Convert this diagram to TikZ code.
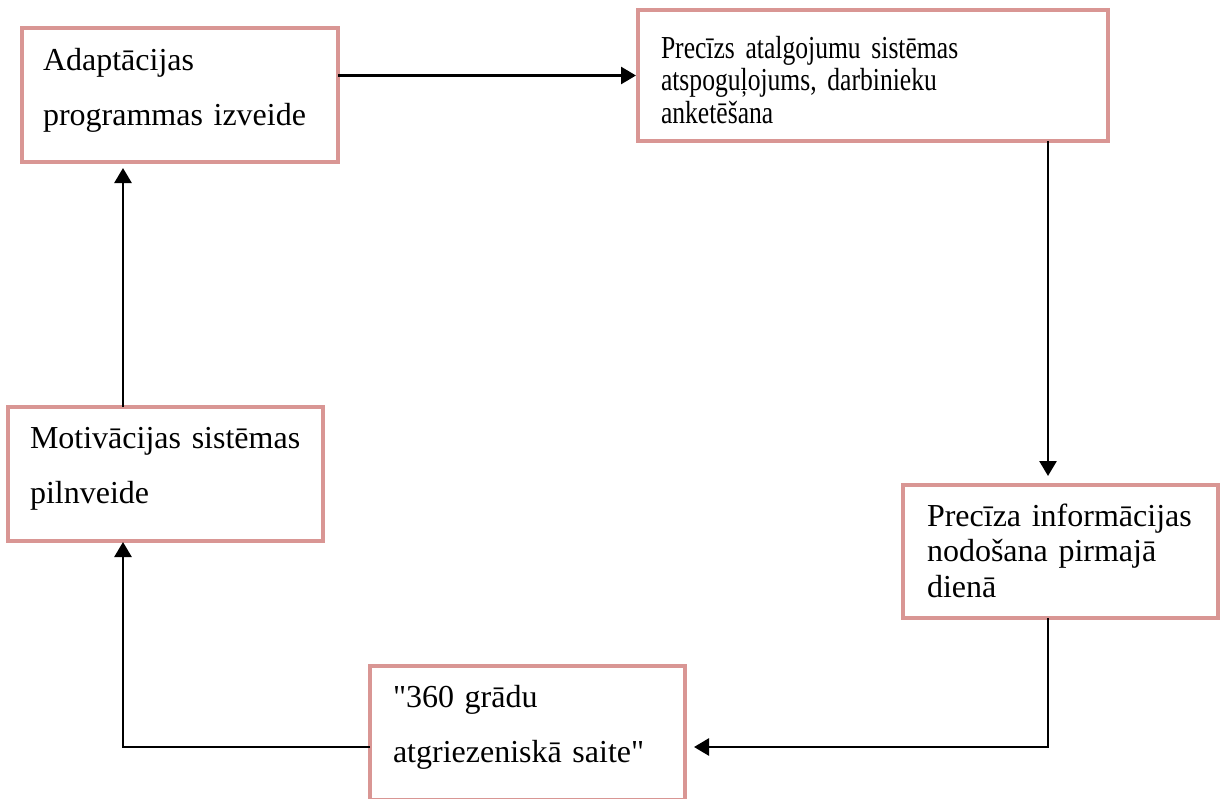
\documentclass[tikz,border=0pt]{standalone}
\usepackage{fontspec}
\setmainfont{Liberation Serif}[Ligatures=TeXOff]
\newfontfamily\narrowfont{Liberation Serif}[FakeStretch=0.8,Ligatures=TeXOff]
\usetikzlibrary{arrows.meta}
\definecolor{rim}{HTML}{D99694}
\tikzset{
  box/.style={draw=rim,line width=2pt,anchor=north west,outer sep=0pt,inner ysep=0pt,align=left,font=\fontsize{16}{27.5}\selectfont},
  tbox/.style={box,font=\fontsize{16}{17.75}\selectfont},
  ar/.style={-{Triangle[length=7.5pt,width=8.5pt]},line width=1.35pt,draw=black},
}

\begin{document}
\begin{tikzpicture}[x=0.5pt,y=-0.5pt]
  \useasboundingbox (0,0) rectangle (1220,798);
  \node[box,inner xsep=10.5pt,text width=137pt,text height=21pt,text depth=46pt] (adapt) at (22,28) {Adaptācijas\\programmas izveide};
  \node[tbox,font=\narrowfont\fontsize{16}{16.25}\selectfont,inner xsep=11.5pt,text width=212pt,text height=24pt,text depth=41.5pt] (atalg) at (638,10) {Precīzs atalgojumu sistēmas\\atspoguļojums, darbinieku\\anketēšana};
  \node[tbox,inner xsep=12pt,text width=133.5pt,text height=20.5pt,text depth=46pt] (info) at (903,485) {Precīza informācijas\\nodošana pirmajā\\dienā};
  \node[box,inner xsep=11.5pt,text width=134.5pt,text height=20.5pt,text depth=46.5pt] (saite) at (370,666) {"360 grādu\\atgriezeniskā saite"};
  \node[box,inner xsep=11pt,text width=135.5pt,text height=20.5pt,text depth=46.5pt] (motiv) at (8,407) {Motivācijas sistēmas\\pilnveide};
  \coordinate (colL) at (123,0);
  \coordinate (colR) at (1048,0);
  \coordinate (rowB) at (0,747);
  \draw[ar,shorten >=1pt] (adapt.east |- atalg.west) -- (atalg.west);
  \draw[ar,shorten >=4.5pt] (colR |- atalg.south) -- (colR |- info.north);
  \draw[ar,shorten >=4.5pt] (colR |- info.south) -- (colR |- rowB) -- (saite.east |- rowB);
  \draw[ar,shorten >=0.5pt] (saite.west |- rowB) -- (colL |- rowB) -- (colL |- motiv.south);
  \draw[ar,shorten >=3pt] (colL |- motiv.north) -- (colL |- adapt.south);
\end{tikzpicture}
\end{document}
